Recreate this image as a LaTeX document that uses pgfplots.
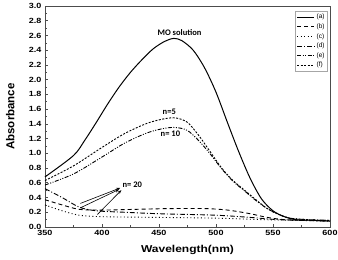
\documentclass[border=0pt]{standalone}
\usepackage{fontspec}
\setmainfont{Liberation Sans}
\newfontfamily\carlito{Carlito}
\newfontfamily\widefont[FakeStretch=1.2]{Liberation Sans}
\usepackage{pgfplots}
\pgfplotsset{compat=1.18}
\usetikzlibrary{arrows.meta}
\begin{document}
\begin{tikzpicture}
\begin{axis}[
  name=ax,
  scale only axis,
  width=285pt, height=221pt,
  xmin=350, xmax=600, ymin=0, ymax=3.0,
  xtick={350,400,...,600},
  minor xtick={375,425,...,575},
  ytick={0,0.2,...,3.01},
  minor ytick={0.1,0.3,...,2.95},
  tick pos=left,
  tick align=inside,
  major tick length=3pt, minor tick length=1.8pt,
  axis line style={line width=0.7pt, gray!60!black},
  tick style={line width=0.6pt, gray!60!black},
  ticklabel style={font=\widefont\fontsize{7.5}{8}\selectfont\bfseries},
  /pgf/number format/assume math mode=true,
  yticklabel style={/pgf/number format/.cd, fixed, fixed zerofill, precision=1},
  xticklabel style={/pgf/number format/.cd, fixed, set thousands separator={}},
  xlabel={Wavelength(nm)},
  ylabel={Absorbance},
  xlabel style={font=\widefont\fontsize{10}{11}\selectfont\bfseries, at={(axis description cs:0.5,-0.105)}, anchor=center},
  ylabel style={font=\fontsize{11.5}{12}\selectfont\bfseries, at={(axis description cs:-0.122,0.5)}, anchor=center},
  clip=false,
  legend style={at={(0.993,0.978)}, anchor=north east, draw=gray!70, line width=0.7pt,
    font=\fontsize{6.5}{7}\selectfont, inner sep=1pt, row sep=-0.6pt, cells={anchor=west}},
  legend image code/.code={\draw[#1, line width=0.9pt] (0cm,0cm) -- (0.6cm,0cm);},
]
% (a) MO solution
\addplot[black, line width=1pt, smooth, tension=0.5] coordinates {
(350,0.68) (375,0.97) (385,1.18) (395,1.42) (405,1.67) (415,1.90) (425,2.10) (435,2.27)
(445,2.42) (455,2.52) (463,2.56) (470,2.53) (480,2.40) (490,2.16) (500,1.83) (510,1.42)
(520,1.02) (530,0.66) (540,0.38) (550,0.22) (560,0.14) (570,0.10) (585,0.09) (600,0.08)};
\addlegendentry{(a)}
% (b) long dashed, n=20
\addplot[black, line width=0.9pt, dash pattern=on 4pt off 3pt, smooth, tension=0.5] coordinates {
(350,0.37) (365,0.30) (380,0.24) (400,0.23) (430,0.24) (460,0.25) (490,0.25) (510,0.23)
(530,0.18) (545,0.13) (560,0.10) (580,0.09) (600,0.08)};
\addlegendentry{(b)}
% (c) dotted, n=20
\addplot[black, line width=0.9pt, dash pattern=on 1pt off 2.5pt, smooth, tension=0.5] coordinates {
(350,0.30) (365,0.22) (380,0.16) (400,0.14) (450,0.13) (500,0.12) (540,0.10) (570,0.09) (600,0.08)};
\addlegendentry{(c)}
% (d) dash-dot, n=20
\addplot[black, line width=0.9pt, dash pattern=on 5pt off 2pt on 1pt off 2pt, smooth, tension=0.5] coordinates {
(350,0.52) (365,0.40) (380,0.27) (395,0.22) (420,0.20) (450,0.18) (500,0.16) (530,0.13) (555,0.10) (600,0.08)};
\addlegendentry{(d)}
% (e) dash-dot-dot, n=10
\addplot[black, line width=0.9pt, dash pattern=on 4pt off 1.5pt on 1pt off 1.5pt on 1pt off 1.5pt, smooth, tension=0.5] coordinates {
(350,0.57) (375,0.72) (400,0.95) (420,1.14) (440,1.28) (455,1.34) (465,1.35) (475,1.31)
(485,1.17) (495,0.99) (505,0.79) (515,0.62) (525,0.49) (535,0.36) (545,0.25) (555,0.17)
(565,0.12) (580,0.10) (600,0.09)};
\addlegendentry{(e)}
% (f) short dashed, n=5
\addplot[black, line width=0.9pt, dash pattern=on 2pt off 1.5pt, smooth, tension=0.5] coordinates {
(350,0.63) (375,0.83) (400,1.08) (420,1.27) (440,1.41) (455,1.47) (465,1.48) (475,1.42)
(485,1.24) (495,1.02) (505,0.80) (515,0.63) (525,0.50) (535,0.37) (545,0.25) (555,0.17)
(565,0.12) (580,0.10) (600,0.09)};
\addlegendentry{(f)}
% annotations
\node[font=\carlito\bfseries\fontsize{8.5}{9}\selectfont] at (axis cs:468,2.64) {MO solution};
\node[font=\carlito\bfseries\fontsize{8.5}{9}\selectfont] at (axis cs:459,1.57) {n=5};
\node[font=\carlito\bfseries\fontsize{8.5}{9}\selectfont] at (axis cs:460,1.26) {n= 10};
\node[font=\carlito\bfseries\fontsize{8.5}{9}\selectfont, anchor=west] at (axis cs:415,0.57) {n= 20};
\draw[-{Stealth[length=4pt,width=3pt]}, line width=0.6pt] (axis cs:381,0.32) -- (axis cs:416,0.53);
\draw[-{Stealth[length=4pt,width=3pt]}, line width=0.6pt] (axis cs:381,0.26) -- (axis cs:415,0.51);
\draw[-{Stealth[length=4pt,width=3pt]}, line width=0.6pt] (axis cs:396,0.17) -- (axis cs:417,0.50);
\end{axis}
\pgfresetboundingbox
\path ([xshift=-45pt,yshift=-33pt]ax.south west) rectangle ([xshift=8pt,yshift=6pt]ax.north east);
\end{tikzpicture}
\end{document}
